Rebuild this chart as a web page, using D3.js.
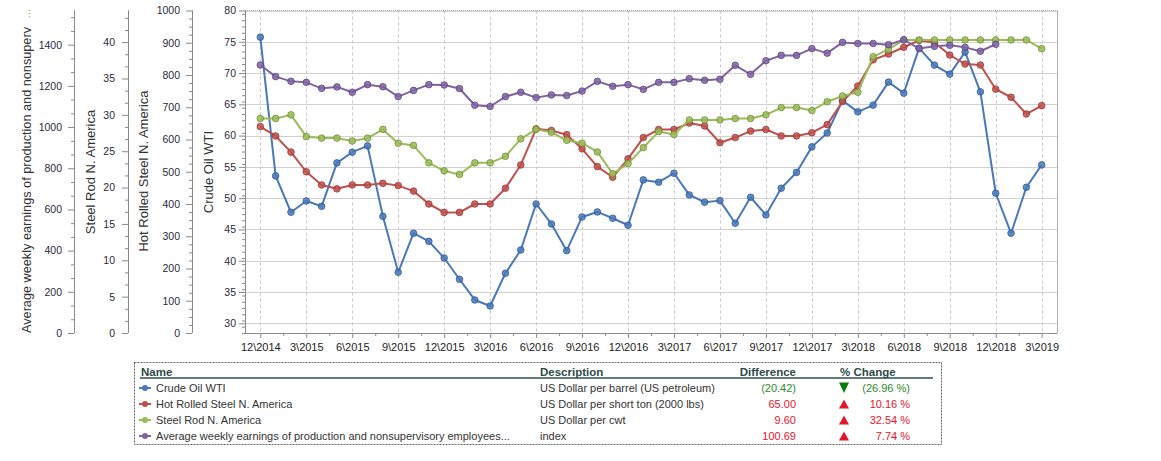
<!DOCTYPE html>
<html><head><meta charset="utf-8">
<script src="https://cdn.jsdelivr.net/npm/d3@7"></script>
<style>
body{margin:0;background:#fff;}
text{font-family:"Liberation Sans",Arial,sans-serif;}
</style></head>
<body><svg id="c" width="1161" height="461"></svg>
<script>
// ---------- data ----------
const startMonth = new Date(2014, 11, 1);
const crudeOil = [75.74,53.56,47.75,49.56,48.70,55.64,57.35,58.36,47.10,38.16,44.40,43.10,40.44,37.04,33.73,32.77,38.00,41.72,49.08,45.88,41.61,47.00,47.80,46.79,45.67,52.92,52.55,53.99,50.52,49.35,49.61,46.00,50.15,47.32,51.59,54.12,58.20,60.42,65.60,63.80,64.87,68.55,66.79,73.98,71.27,69.83,73.35,67.00,50.79,44.40,51.75,55.32];
const hotRolled = [640,611,561,500,459,447,459,459,464,457,440,400,374,374,400,400,449,521,633,628,615,571,516,483,540,606,631,631,651,642,590,606,626,631,611,611,621,646,718,766,847,865,886,907,901,862,834,831,756,731,679,705];
const steelRod = [29.5,29.5,30.0,27.0,26.8,26.8,26.4,26.8,28.0,26.1,25.8,23.4,22.3,21.8,23.4,23.4,24.3,26.7,28.0,27.6,26.5,26.1,24.9,21.9,23.3,25.5,27.7,27.3,29.3,29.3,29.3,29.5,29.5,30.0,31.0,31.0,30.6,31.8,32.6,33.1,38.0,39.0,40.3,40.3,40.3,40.3,40.3,40.3,40.3,40.3,40.3,39.1];
const avgEarnings = [1301,1245,1222,1217,1188,1195,1169,1206,1196,1148,1178,1206,1204,1187,1106,1100,1148,1169,1143,1156,1153,1175,1222,1198,1206,1183,1217,1217,1235,1227,1232,1300,1256,1322,1348,1348,1381,1359,1411,1406,1406,1400,1424,1381,1392,1397,1387,1368,1402];

const crudeTicks = [30,35,40,45,50,55,60,65,70,75,80];
const hotTicks = [0,100,200,300,400,500,600,700,800,900,1000];
const rodTicks = [0,5,10,15,20,25,30,35,40];
const avgTicks = [0,200,400,600,800,1000,1200,1400];

const seriesNames = ["Crude Oil WTI","Hot Rolled Steel N. America","Steel Rod N. America","Average weekly earnings of production and nonsupervisory employees..."];
const descriptions = ["US Dollar per barrel (US petroleum)","US Dollar per short ton (2000 lbs)","US Dollar per cwt","index"];
const differences = ["(20.42)","65.00","9.60","100.69"];
const pctChanges = ["(26.96 %)","10.16 %","32.54 %","7.74 %"];
const directions = ["down","up","up","up"];
const colors = ["#4a78b8","#c0504d","#9bbb59","#8064a2"];
const strokes = ["#2f5a96","#9a3330","#6e8f34","#5c4480"];

// ---------- layout ----------
const svg = d3.select("#c");
const L = 245, R = 1057, T = 10.5, B = 333;
const months = d3.timeMonth.range(startMonth, d3.timeMonth.offset(startMonth, crudeOil.length));
const x = d3.scaleLinear().domain([-1, 52]).range([L, R]);
const yCrude = d3.scaleLinear().domain([28.45, 80]).range([B, T]);
const yHot = d3.scaleLinear().domain([0, 1000]).range([B, T]);
const yRod = d3.scaleLinear().domain([0, 44.35]).range([B, T]);
const yAvg = d3.scaleLinear().domain([0, 1566]).range([B, T]);

// grid
const g = svg.append("g");
g.selectAll(".hg").data(crudeTicks).enter().append("line")
  .attr("x1", L).attr("x2", R).attr("y1", d => Math.round(yCrude(d))+0.5).attr("y2", d => Math.round(yCrude(d))+0.5)
  .attr("stroke", "#d2d2d2");
const xMajor = d3.range(0, 52, 3);
g.selectAll(".vg").data(xMajor).enter().append("line")
  .attr("x1", d => Math.round(x(d))+0.5).attr("x2", d => Math.round(x(d))+0.5).attr("y1", T).attr("y2", B)
  .attr("stroke", "#c9c3d3").attr("stroke-dasharray", "3,3");
g.append("line").attr("x1", L).attr("x2", R).attr("y1", 10.5).attr("y2", 10.5).attr("stroke", "#a8a8a8").attr("stroke-dasharray","1,1");
g.append("line").attr("x1", R+0.5).attr("x2", R+0.5).attr("y1", 10).attr("y2", B).attr("stroke", "#b0b0b0");

// y axes
function yAxis(scale, ticks, minorStep, xpos, pad) {
  const a = svg.append("g").attr("transform", `translate(${xpos},0)`);
  const minor = d3.range(scale.domain()[0], scale.domain()[1] + 1e-9, minorStep).filter(v => ticks.indexOf(+v.toFixed(6)) < 0);
  a.call(d3.axisLeft(scale).tickValues(minor).tickSize(3).tickFormat(""));
  const b = svg.append("g").attr("transform", `translate(${xpos},0)`);
  b.call(d3.axisLeft(scale).tickValues(ticks).tickSize(6).tickPadding(pad).tickSizeOuter(0).tickFormat(d3.format("d")));
  [a, b].forEach(s => {
    s.select(".domain").attr("stroke", "#8a8a8a").attr("d", `M0.5,${T}V${B}`);
    s.selectAll(".tick line").attr("stroke", "#8a8a8a");
    s.selectAll("text").attr("fill", "#2a2a3a").style("font-size", "10.5px").style("font-family", "Liberation Sans, Arial, sans-serif");
  });
}
yAxis(yAvg, avgTicks, 200/3, 74, 6);
yAxis(yRod, rodTicks, 5/3, 128, 7);
yAxis(yHot, hotTicks, 25, 192, 6);
yAxis(yCrude, crudeTicks, 1, 245, 3);

// axis titles
function vTitle(txt, cx, cy, anchor, len) {
  const t = svg.append("text").attr("transform", `translate(${cx},${cy}) rotate(-90)`)
    .attr("text-anchor", anchor).attr("dominant-baseline", "central")
    .attr("fill", "#333").style("font-size", "13px").text(txt);
  if (len) t.attr("textLength", len).attr("lengthAdjust", "spacingAndGlyphs");
}
vTitle("Average weekly earnings of production and nonsuperv", 26, 333, "start", 306);
svg.append("text").attr("transform", "translate(26,9) rotate(-90)").attr("text-anchor","end").attr("dominant-baseline","central")
  .attr("fill","#b0a040").style("font-size","11px").text("...");
vTitle("Steel Rod N. America", 90, 172, "middle");
vTitle("Hot Rolled Steel N. America", 143, 171, "middle");
vTitle("Crude Oil WTI", 208, 172, "middle");

// x axis
const fmt = d => { const m = months[d]; return (m.getMonth()+1) + "\\" + m.getFullYear(); };
const xa = svg.append("g").attr("transform", `translate(0,${B})`);
xa.call(d3.axisBottom(x).tickValues(d3.range(1.5, 52, 3)).tickSize(3).tickFormat(""));
const xb = svg.append("g").attr("transform", `translate(0,${B})`);
xb.call(d3.axisBottom(x).tickValues(xMajor).tickSize(5).tickPadding(5).tickFormat(fmt));
[xa, xb].forEach(s => {
  s.select(".domain").attr("stroke", "#8a8a8a").attr("d", `M${L},0.5H${R}`);
  s.selectAll(".tick line").attr("stroke", "#8a8a8a");
  s.selectAll("text").attr("fill", "#222").style("font-size", "11px").style("font-family", "Liberation Sans, Arial, sans-serif");
});

// series
const series = [
  {vals: crudeOil, y: yCrude},
  {vals: hotRolled, y: yHot},
  {vals: steelRod, y: yRod},
  {vals: avgEarnings, y: yAvg}
];
series.forEach((s, k) => {
  const line = d3.line().x((d, i) => x(i)).y(d => s.y(d));
  svg.append("path").datum(s.vals).attr("d", line).attr("fill", "none")
    .attr("stroke", colors[k]).attr("stroke-width", 2).attr("stroke-linejoin", "round");
  svg.append("g").selectAll("circle").data(s.vals).enter().append("circle")
    .attr("cx", (d, i) => x(i)).attr("cy", d => s.y(d)).attr("r", 3.3)
    .attr("fill", colors[k]).attr("fill-opacity", 0.85).attr("stroke", strokes[k]).attr("stroke-width", 0.8);
});

// table
const tb = svg.append("g");
tb.append("rect").attr("x", 134.5).attr("y", 362.5).attr("width", 807).attr("height", 82)
  .attr("fill", "#fff").attr("stroke", "#666").attr("stroke-dasharray", "2,1");
tb.append("line").attr("x1", 140).attr("x2", 933).attr("y1", 378).attr("y2", 378).attr("stroke", "#2f4f4f").attr("stroke-width", 1.5);
const hdr = (t, xx, anchor) => tb.append("text").attr("x", xx).attr("y", 376).attr("text-anchor", anchor)
  .attr("fill", "#2f4a4a").style("font-size", "11.5px").style("font-weight", "bold").text(t);
hdr("Name", 141, "start");
hdr("Description", 540, "start");
hdr("Difference", 796, "end");
hdr("% Change", 840, "start");
seriesNames.forEach((n, k) => {
  const cy = 388 + k * 16;
  tb.append("line").attr("x1", 139).attr("x2", 151).attr("y1", cy).attr("y2", cy).attr("stroke", colors[k]).attr("stroke-width", 2);
  tb.append("circle").attr("cx", 145).attr("cy", cy).attr("r", 3).attr("fill", colors[k]);
  tb.append("text").attr("x", 156).attr("y", cy + 4).attr("fill", "#333").style("font-size", "11px").text(n);
  tb.append("text").attr("x", 540).attr("y", cy + 4).attr("fill", "#333").style("font-size", "11px").text(descriptions[k]);
  const col = directions[k] === "down" ? "#2a8a2a" : "#e8132b";
  tb.append("text").attr("x", 796).attr("y", cy + 4).attr("text-anchor", "end").attr("fill", col).style("font-size", "11px").text(differences[k]);
  tb.append("text").attr("x", 910).attr("y", cy + 4).attr("text-anchor", "end").attr("fill", col).style("font-size", "11px").text(pctChanges[k]);
  const tri = directions[k] === "down"
    ? `M839,${cy-5.5}L849,${cy-5.5}L844,${cy+5}Z`
    : `M839,${cy+4.5}L849,${cy+4.5}L844,${cy-4.5}Z`;
  tb.append("path").attr("d", tri).attr("fill", directions[k] === "down" ? "#0b7a0b" : "#e8132b");
});
</script></body></html>
